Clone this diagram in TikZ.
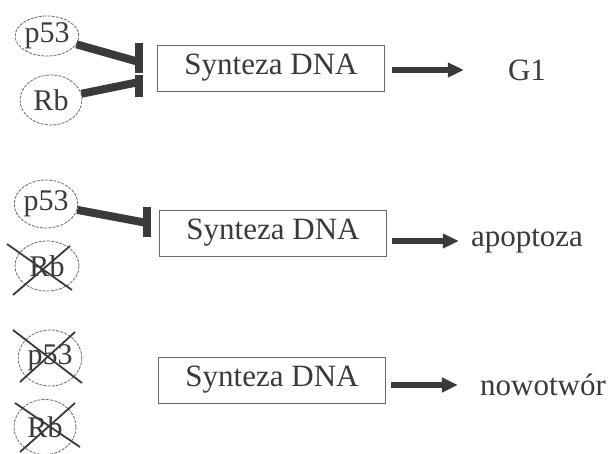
\documentclass[tikz,border=0pt]{standalone}
\usepackage{fontspec}
\setmainfont{Liberation Serif}
\usetikzlibrary{shapes.geometric,arrows.meta,calc}
\definecolor{ink}{HTML}{3A3A3A}
\definecolor{faint}{HTML}{6A6A6A}
\tikzset{
  gene/.style={ellipse, draw=faint, line width=0.8pt, dash pattern=on 3pt off 1.2pt,
    inner sep=0pt, font=\fontsize{30}{33}\selectfont, text=ink},
  synth/.style={rectangle, draw=faint, line width=0.9pt, minimum width=227pt,
    minimum height=46pt, inner sep=0pt, font=\fontsize{31}{34}\selectfont, text=ink},
  outcome/.style={inner sep=0pt, font=\fontsize{31}{34}\selectfont, text=ink},
  inhib/.style={draw=ink, line width=8pt},
  stopbar/.style={draw=ink, line width=8pt},
  leads/.style={draw=ink, line width=5.5pt, -{Triangle[length=16pt,width=14pt]}},
  knock/.style={draw=ink, line width=1.8pt}
}
\begin{document}
\begin{tikzpicture}[x=1pt,y=-1pt]
\useasboundingbox (0,0) rectangle (610,453);

% --- normal cell: p53 and Rb both block DNA synthesis ---
\node[gene, minimum width=60pt, minimum height=40pt] (p1) at (47,36) {p53};
\node[gene, minimum width=62pt, minimum height=50pt] (r1) at (51,100) {Rb};
\node[synth] (s1) at (271,68) {Synteza DNA};
\node[outcome] (o1) at (527,70) {G1};
\coordinate (b1t) at (139,43);
\coordinate (b1m) at (139,62);
\coordinate (b1b) at (139,73);
\coordinate (b2t) at (139,75);
\coordinate (b2m) at (139,82);
\coordinate (b2b) at (139,97);
\draw[inhib] (p1) -- (b1m);
\draw[inhib] (r1) -- (b2m);
\draw[stopbar] (b1t) -- (b1b);
\draw[stopbar] (b2t) -- (b2b);
\draw[leads, shorten <=7pt, shorten >=44pt] (s1.east |- o1) -- (o1.west);

% --- Rb lost: only p53 blocks synthesis ---
\node[gene, minimum width=62pt, minimum height=48pt] (p2) at (46,204) {p53};
\node[gene, minimum width=64pt, minimum height=50pt] (r2) at (47,266) {Rb};
\node[synth] (s2) at (273,233) {Synteza DNA};
\node[outcome] (o2) at (527,241) {apoptoza};
\coordinate (b3t) at (147,207);
\coordinate (b3m) at (147,223);
\coordinate (b3b) at (147,237);
\draw[inhib] (p2) -- (b3m);
\draw[stopbar] (b3t) -- (b3b);
\draw[knock] ($(r2)+(-40,-22)$) -- ($(r2)+(25,24)$);
\draw[knock] ($(r2)+(23,-20)$) -- ($(r2)+(-34,29)$);
\draw[leads, shorten <=5pt, shorten >=12pt] (s2.east |- o2) -- (o2.west);

% --- both lost: synthesis unchecked ---
\node[gene, minimum width=62pt, minimum height=56pt] (p3) at (50,358) {p53};
\node[gene, minimum width=62pt, minimum height=55pt] (r3) at (45,427) {Rb};
\node[synth] (s3) at (272,380) {Synteza DNA};
\node[outcome] (o3) at (543,385) {nowotwór};
\draw[knock] ($(p3)+(-37,-28)$) -- ($(p3)+(32,25)$);
\draw[knock] ($(p3)+(25,-26)$) -- ($(p3)+(-30,24)$);
\draw[knock] ($(r3)+(-30,-24)$) -- ($(r3)+(35,20)$);
\draw[knock] ($(r3)+(30,-24)$) -- ($(r3)+(-25,25)$);
\draw[leads, shorten <=5pt, shorten >=22pt] (s3.east |- o3) -- (o3.west);
\end{tikzpicture}
\end{document}
